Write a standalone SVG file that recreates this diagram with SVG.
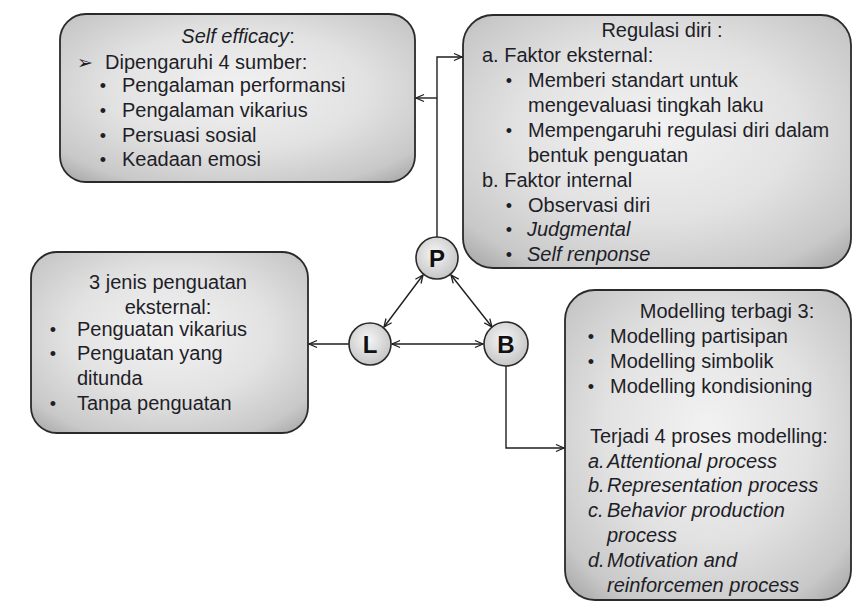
<svg xmlns="http://www.w3.org/2000/svg" width="854" height="603" viewBox="0 0 854 603">
<style>
.box{stroke:#2a2a2a;stroke-width:1.8;fill:url(#boxg)}
.circ{stroke:#2a2a2a;stroke-width:1.6;fill:url(#circg)}
.t{font-family:"Liberation Sans",Arial,sans-serif;font-size:20px;fill:#1e1e28}
.i{font-style:italic}
.c{text-anchor:middle}
.b{text-anchor:middle;font-size:18px}
.lt{font-family:"Liberation Sans",Arial,sans-serif;font-size:24px;font-weight:bold;fill:#111;text-anchor:middle}
.ln{stroke:#1e1e1e;stroke-width:1.4;fill:none}
</style>
<defs>
<radialGradient id="boxg" cx="50%" cy="45%" r="72%">
<stop offset="0" stop-color="#f2f2f2"/>
<stop offset="0.5" stop-color="#e2e2e2"/>
<stop offset="0.85" stop-color="#c8c8c8"/>
<stop offset="1" stop-color="#a8a8a8"/>
</radialGradient>
<radialGradient id="circg" cx="45%" cy="40%" r="65%">
<stop offset="0" stop-color="#f6f6f6"/>
<stop offset="1" stop-color="#c2c2c2"/>
</radialGradient>
<marker id="arr" markerWidth="10" markerHeight="10" refX="9" refY="5" orient="auto-start-reverse" markerUnits="userSpaceOnUse">
<path d="M1,1.5 L9,5 L1,8.5" fill="none" stroke="#1e1e1e" stroke-width="1.3"/>
</marker>
</defs>
<rect width="854" height="603" fill="#ffffff"/>

<g id="self-efficacy">
<rect class="box" x="60" y="14" width="355" height="168" rx="26"/>
<text class="t c" x="238" y="43"><tspan class="i">Self efficacy</tspan>:</text>
<text class="t" x="77" y="69" style="font-family:'DejaVu Sans',sans-serif;font-size:19px">➢</text>
<text class="t" x="105" y="69">Dipengaruhi 4 sumber:</text>
<text class="t b" x="103" y="92">•</text><text class="t" x="122" y="92">Pengalaman performansi</text>
<text class="t b" x="103" y="117">•</text><text class="t" x="122" y="117">Pengalaman vikarius</text>
<text class="t b" x="103" y="142">•</text><text class="t" x="122" y="142">Persuasi sosial</text>
<text class="t b" x="103" y="166">•</text><text class="t" x="122" y="166">Keadaan emosi</text>
</g>

<g id="regulasi-diri">
<rect class="box" x="463" y="15" width="388" height="253" rx="30"/>
<text class="t c" x="662" y="37">Regulasi diri :</text>
<text class="t" x="482" y="62">a. Faktor eksternal:</text>
<text class="t b" x="509" y="87">•</text><text class="t" x="528" y="87">Memberi standart untuk</text>
<text class="t" x="528" y="112">mengevaluasi tingkah laku</text>
<text class="t b" x="509" y="137">•</text><text class="t" x="528" y="137">Mempengaruhi regulasi diri dalam</text>
<text class="t" x="528" y="162">bentuk penguatan</text>
<text class="t" x="482" y="187">b. Faktor internal</text>
<text class="t b" x="509" y="212">•</text><text class="t" x="528" y="212">Observasi diri</text>
<text class="t b" x="509" y="236">•</text><text class="t i" x="527" y="236">Judgmental</text>
<text class="t b" x="509" y="261">•</text><text class="t i" x="527" y="261">Self renponse</text>
</g>

<g id="penguatan">
<rect class="box" x="31" y="252" width="277" height="181" rx="26"/>
<text class="t c" x="168" y="289">3 jenis penguatan</text>
<text class="t c" x="168" y="314">eksternal:</text>
<text class="t b" x="53" y="336">•</text><text class="t" x="77" y="336">Penguatan vikarius</text>
<text class="t b" x="53" y="360">•</text><text class="t" x="77" y="360">Penguatan yang</text>
<text class="t" x="77" y="385">ditunda</text>
<text class="t b" x="53" y="410">•</text><text class="t" x="77" y="410">Tanpa penguatan</text>
</g>

<g id="modelling">
<rect class="box" x="565" y="290" width="286" height="310" rx="30"/>
<text class="t c" x="727" y="318">Modelling terbagi 3:</text>
<text class="t b" x="591" y="343">•</text><text class="t" x="610" y="343">Modelling partisipan</text>
<text class="t b" x="591" y="368">•</text><text class="t" x="610" y="368">Modelling simbolik</text>
<text class="t b" x="591" y="393">•</text><text class="t" x="610" y="393">Modelling kondisioning</text>
<text class="t" x="590" y="443">Terjadi 4 proses modelling:</text>
<text class="t i" x="588" y="468">a.</text><text class="t i" x="607" y="468">Attentional process</text>
<text class="t i" x="588" y="492">b.</text><text class="t i" x="607" y="492">Representation process</text>
<text class="t i" x="588" y="517">c.</text><text class="t i" x="607" y="517">Behavior production</text>
<text class="t i" x="607" y="542">process</text>
<text class="t i" x="588" y="567">d.</text><text class="t i" x="607" y="567">Motivation and</text>
<text class="t i" x="607" y="592">reinforcemen process</text>
</g>

<g id="connectors">
<polyline class="ln" points="437,237 437,57 462,57" marker-end="url(#arr)"/>
<line class="ln" x1="437" y1="98" x2="416" y2="98" marker-end="url(#arr)"/>
<line class="ln" x1="423" y1="275" x2="384" y2="327" marker-start="url(#arr)" marker-end="url(#arr)"/>
<line class="ln" x1="451" y1="275" x2="492" y2="327" marker-start="url(#arr)" marker-end="url(#arr)"/>
<line class="ln" x1="392" y1="344" x2="483" y2="344" marker-start="url(#arr)" marker-end="url(#arr)"/>
<line class="ln" x1="349" y1="344" x2="309" y2="344" marker-end="url(#arr)"/>
<polyline class="ln" points="506,366 506,448 564,448" marker-end="url(#arr)"/>
</g>

<g id="node-P">
<circle class="circ" cx="437" cy="258" r="21"/>
<text class="lt" x="437" y="267">P</text>
</g>
<g id="node-L">
<circle class="circ" cx="370" cy="344" r="21"/>
<text class="lt" x="370" y="353">L</text>
</g>
<g id="node-B">
<circle class="circ" cx="506" cy="344" r="22"/>
<text class="lt" x="506" y="353">B</text>
</g>
</svg>
